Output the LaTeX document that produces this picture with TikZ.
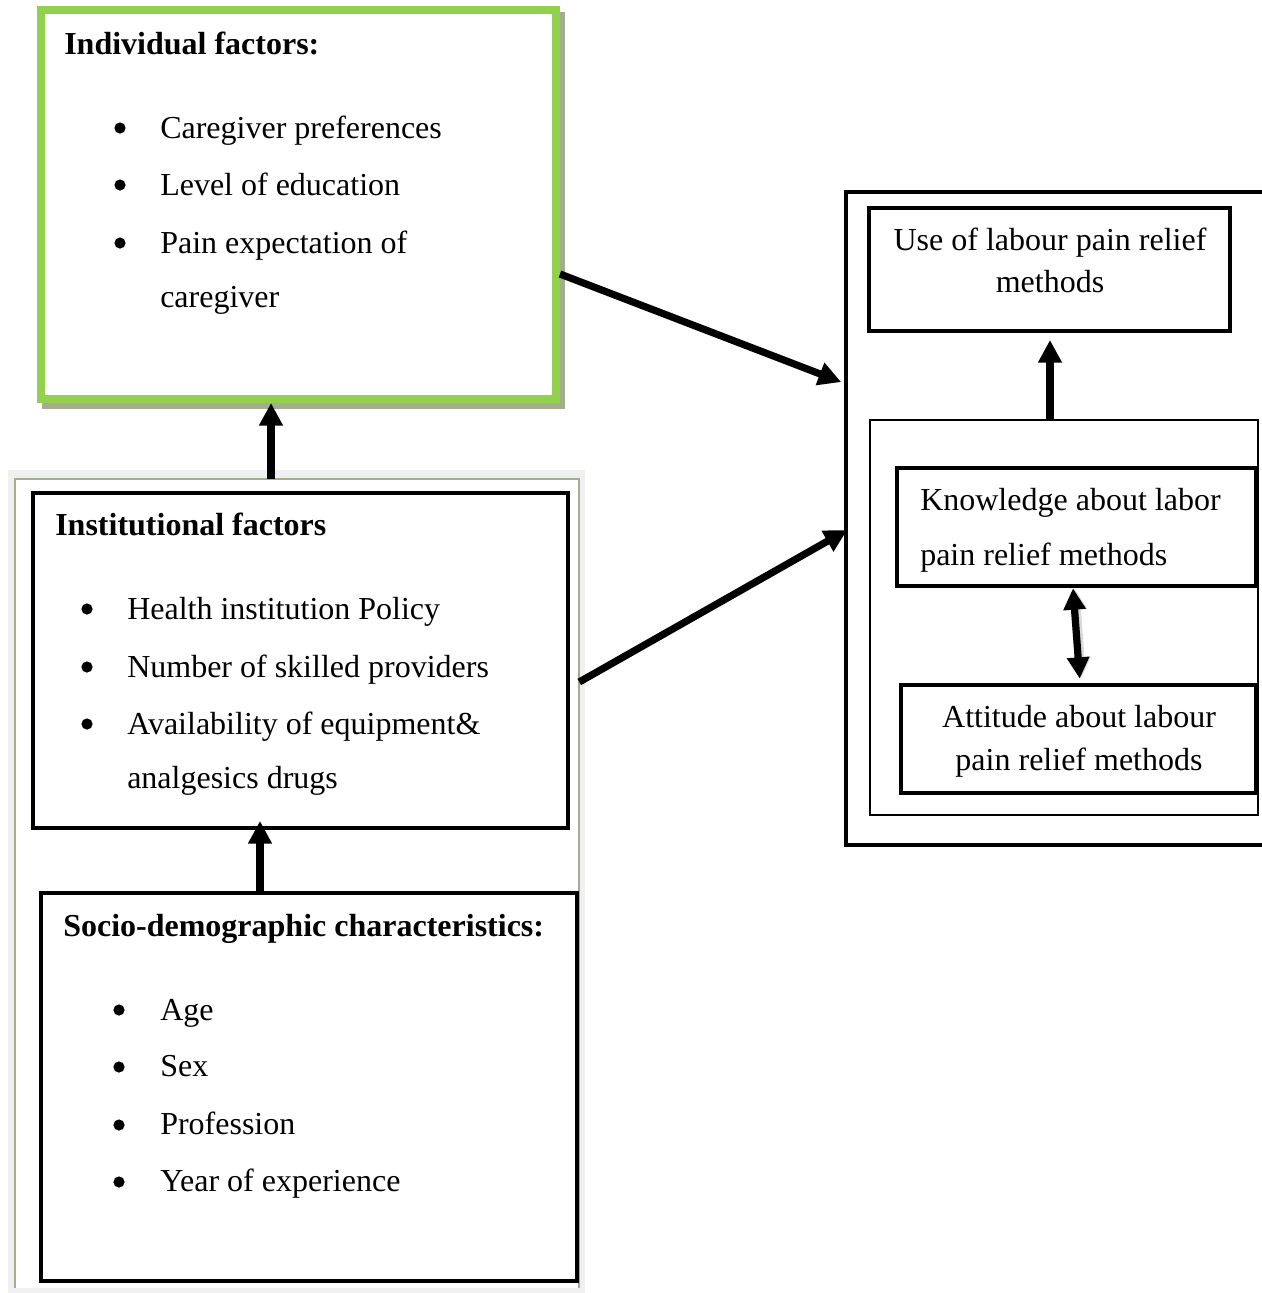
\documentclass[tikz,border=0pt]{standalone}
\usepackage{fontspec}
\setmainfont{Liberation Serif}
\usetikzlibrary{arrows.meta,fit,calc}
\definecolor{grn}{HTML}{92D050}
\definecolor{olivegray}{RGB}{165,173,143}
\definecolor{lgray}{HTML}{F0F0F0}
\begin{document}
\begin{tikzpicture}[x=0.75pt,y=-0.75pt,
  box/.style={draw=black, line width=3.5pt, inner sep=0pt, fill=white},
  thinbox/.style={draw=black, line width=1pt, inner sep=0pt, fill=white},
  txt/.style={anchor=base west, inner sep=0pt, font=\fontsize{24}{28}\selectfont},
  ctxt/.style={anchor=base, inner sep=0pt, font=\fontsize{24}{28}\selectfont},
  head/.style={anchor=base west, inner sep=0pt, font=\fontsize{24}{28}\selectfont\bfseries},
  arr/.style={line width=5.4pt, -{Triangle[length=17pt,width=17pt]}},
  darr/.style={line width=5.4pt, {Triangle[length=16pt,width=16pt]}-{Triangle[length=16pt,width=16pt]}},
  bul/.style={fill=black}]
\clip (0,0) rectangle (1262,1293);
\fill[white] (0,0) rectangle (1262,1293);

% light gray frame around lower-left boxes
\fill[lgray] (8,470) rectangle (585,1293);
\node[fit={(15,479) (579,1288)}, inner sep=0pt, fill=white] (frame) {};
\draw[olivegray, line width=1.5pt] (15,1288) -- (15,479) -- (579,479) -- (579,1288);

% individual factors (green box with shadow)
\draw[olivegray, line width=6pt] (46,16) rectangle (561,405);
\node[fit={(41,10) (556,399)}, inner sep=0pt, draw=grn, line width=6pt, fill=white] (indiv) {};
\node[head] (ih) at (64,54) {Individual factors:};
\fill[bul] (120,128) circle (4.2pt);
\node[txt] (i1) at (160,138) {Caregiver preferences};
\fill[bul] (120,185) circle (4.2pt);
\node[txt] (i2) at (160,195) {Level of education};
\fill[bul] (120,243) circle (4.2pt);
\node[txt] (i3) at (160,253) {Pain expectation of};
\node[txt] (i4) at (160,307) {caregiver};

% institutional factors
\node[box, fit={(33,493) (568,828)}] (inst) {};
\node[head] (sh) at (55,535) {Institutional factors};
\fill[bul] (87,609) circle (4.2pt);
\node[txt] (s1) at (127,619) {Health institution Policy};
\fill[bul] (87,667) circle (4.2pt);
\node[txt] (s2) at (127,677) {Number of skilled providers};
\fill[bul] (87,724) circle (4.2pt);
\node[txt] (s3) at (127,734) {Availability of equipment\&};
\node[txt] (s4) at (127,788) {analgesics drugs};

% socio-demographic characteristics
\node[box, fit={(41,893) (577,1281)}] (socio) {};
\node[head] (dh) at (63,936) {Socio-demographic characteristics:};
\fill[bul] (119,1010) circle (4.2pt);
\node[txt] (d1) at (160,1020) {Age};
\fill[bul] (119,1067) circle (4.2pt);
\node[txt] (d2) at (160,1076) {Sex};
\fill[bul] (119,1125) circle (4.2pt);
\node[txt] (d3) at (160,1134) {Profession};
\fill[bul] (119,1182) circle (4.2pt);
\node[txt] (d4) at (160,1191) {Year of experience};

% right side
\node[box, fit={(846,192) (1285,845)}] (big) {};
\node[box, fit={(869,208) (1230,331)}] (use) {};
\node[ctxt] (u1) at (1050,250) {Use of labour pain relief};
\node[ctxt] (u2) at (1050,292) {methods};
\node[thinbox, fit={(870,420) (1258,815)}] (inner) {};
\node[box, fit={(897,468) (1256,586)}] (know) {};
\node[txt] (k1) at (920,510) {Knowledge about labor};
\node[txt] (k2) at (920,565) {pain relief methods};
\node[box, fit={(901,685) (1256,793)}] (att) {};
\node[ctxt] (a1) at (1079,727) {Attitude about labour};
\node[ctxt] (a2) at (1079,770) {pain relief methods};

% connectors
\coordinate (c1) at (271,0);
\draw[arr] (frame.north -| c1) -- (indiv.south -| c1);
\coordinate (c2) at (260,0);
\draw[arr, shorten >=-7pt] (socio.north -| c2) -- (inst.south -| c2);
\coordinate (c3a) at (0,274);
\coordinate (c3b) at (0,383);
\draw[arr, shorten >=2pt] (indiv.east |- c3a) -- (big.west |- c3b);
\coordinate (c4a) at (0,682);
\coordinate (c4b) at (0,532);
\draw[arr, shorten >=-3pt] (frame.east |- c4a) -- (big.west |- c4b);
\coordinate (c5) at (1050,0);
\draw[arr, shorten >=5pt] (inner.north -| c5) -- (use.south -| c5);
\coordinate (c6a) at (1073,0);
\coordinate (c6b) at (1080,0);
\draw[darr, gray!30, line width=7.5pt, shorten <=0pt, shorten >=3pt] ([xshift=1pt]know.south -| c6a) -- ([xshift=1pt]att.north -| c6b);
\draw[darr, shorten <=0pt, shorten >=3pt] (know.south -| c6a) -- (att.north -| c6b);
\end{tikzpicture}
\end{document}
